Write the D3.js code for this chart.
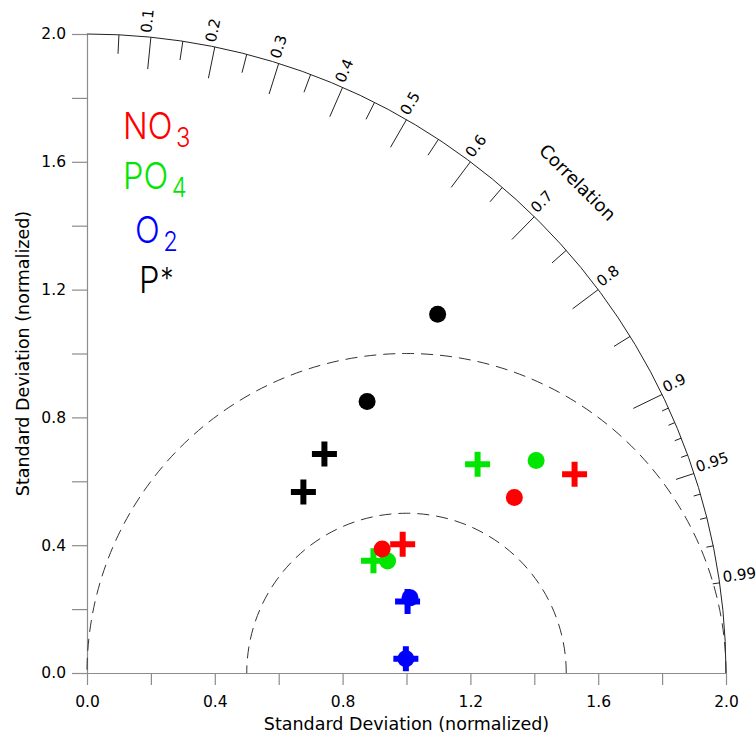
<!DOCTYPE html>
<html>
<head>
<meta charset="utf-8">
<script src="https://cdn.jsdelivr.net/npm/d3@7"></script>
<style>
  html, body { margin: 0; padding: 0; background: #fff; }
  svg { display: block; font-family: "DejaVu Sans", "Liberation Sans", sans-serif; }
</style>
</head>
<body>
<svg id="chart" width="756" height="738"></svg>
<script>
// ---------------- DATA ----------------
const variables = ["NO3", "PO4", "O2", "P*"];
// normalized standard deviation and correlation of the circle markers (two per variable)
const circleStd  = [[1.446, 1.002], [1.555, 1.004], [1.038, 0.999], [1.570, 1.221]];
const circleCorr = [[0.925, 0.922], [0.904, 0.937], [0.974, 0.999], [0.699, 0.718]];
// normalized standard deviation and correlation of the cross markers (two per variable)
const crossStd   = [[1.648, 1.067], [1.386, 0.963], [1.028, 0.999], [1.011, 0.883]];
const crossCorr  = [[0.926, 0.926], [0.882, 0.931], [0.976, 0.999], [0.735, 0.767]];
// axis ticks
const stdTicks  = [0, 0.2, 0.4, 0.6, 0.8, 1.0, 1.2, 1.4, 1.6, 1.8, 2.0];
const stdLabels = ["0.0", "", "0.4", "", "0.8", "", "1.2", "", "1.6", "", "2.0"];
const corrMajor  = [0.1, 0.2, 0.3, 0.4, 0.5, 0.6, 0.7, 0.8, 0.9, 0.95, 0.99];
const corrLabels = ["0.1", "0.2", "0.3", "0.4", "0.5", "0.6", "0.7", "0.8", "0.9", "0.95", "0.99"];
const corrMinor  = [0.05, 0.15, 0.25, 0.35, 0.45, 0.55, 0.65, 0.75, 0.85,
                    0.91, 0.92, 0.93, 0.94, 0.96, 0.97, 0.98];
const rmsCircles = [0.5, 1.0];   // centred-RMS arcs around the reference point
const refStd = 1.0;
const maxStd = 2.0;

// ---------------- STYLE ----------------
const colors = ["#ff0000", "#00e600", "#0000ff", "#000000"];
const drawOrder = [1, 0, 2, 3];

// ---------------- SCALES ----------------
const svg = d3.select("#chart");
const xS = d3.scaleLinear().domain([0, maxStd]).range([87, 726]);
const yS = d3.scaleLinear().domain([0, maxStd]).range([673, 34]);
const rS = d3.scaleLinear().domain([0, maxStd]).range([0, 639]);
const ox = xS(0), oy = yS(0);

function polar(std, corr) {
  const th = Math.acos(corr);
  return [xS(std * Math.cos(th)), yS(std * Math.sin(th))];
}

// ---------------- AXES ----------------
const xAxis = d3.axisBottom(xS).tickValues(stdTicks)
  .tickFormat((d, i) => stdLabels[i]).tickSize(12).tickSizeOuter(0).tickPadding(11);
const yAxis = d3.axisLeft(yS).tickValues(stdTicks)
  .tickFormat((d, i) => stdLabels[i]).tickSize(15).tickSizeOuter(0).tickPadding(6);

const gx = svg.append("g").attr("transform", `translate(0,${oy})`).call(xAxis);
const gy = svg.append("g").attr("transform", `translate(${ox},0)`).call(yAxis);
[gx, gy].forEach(g => {
  g.select(".domain").attr("stroke", "#8c8c8c").attr("stroke-width", 1.2);
  g.selectAll(".tick line").attr("stroke", "#8c8c8c").attr("stroke-width", 1.2);
  g.selectAll(".tick text").attr("font-size", 15.5).attr("fill", "#000")
    .attr("font-family", "DejaVu Sans, sans-serif");
});

svg.append("text")
  .attr("x", (xS(0) + xS(maxStd)) / 2).attr("y", 730)
  .attr("text-anchor", "middle").attr("font-size", 17.5)
  .text("Standard Deviation (normalized)");
svg.append("text")
  .attr("transform", `translate(29,${(yS(0) + yS(maxStd)) / 2}) rotate(-90)`)
  .attr("text-anchor", "middle").attr("font-size", 17.5)
  .text("Standard Deviation (normalized)");

// ---------------- OUTER ARC ----------------
const outer = d3.path();
outer.arc(ox, oy, rS(maxStd), 0, -Math.PI / 2, true);
svg.append("path").attr("d", outer.toString())
  .attr("fill", "none").attr("stroke", "#222").attr("stroke-width", 1);

// correlation ticks
function tickLen(c, major) {
  if (major) return c <= 0.9 ? 32 : (c === 0.95 ? 19 : 7);
  return c <= 0.85 ? 19 : 7;
}
const ticksData = corrMajor.map(c => ({ c, major: true }))
  .concat(corrMinor.map(c => ({ c, major: false })));
svg.append("g").selectAll("line").data(ticksData).join("line")
  .each(function (d) {
    const th = Math.acos(d.c);
    const R = rS(maxStd), L = tickLen(d.c, d.major);
    d3.select(this)
      .attr("x1", ox + R * Math.cos(th)).attr("y1", oy - R * Math.sin(th))
      .attr("x2", ox + (R - L) * Math.cos(th)).attr("y2", oy - (R - L) * Math.sin(th));
  })
  .attr("stroke", "#222").attr("stroke-width", 1);

svg.append("g").selectAll("text").data(corrMajor).join("text")
  .attr("transform", c => {
    const th = Math.acos(c), R = rS(maxStd) + 4;
    return `translate(${ox + R * Math.cos(th)},${oy - R * Math.sin(th)}) rotate(${-th * 180 / Math.PI})`;
  })
  .attr("font-size", 15).attr("text-anchor", "start")
  .text((c, i) => corrLabels[i]);

{
  const th = Math.PI / 4, R = rS(maxStd) + 55;
  svg.append("text")
    .attr("transform", `translate(${ox + R * Math.cos(th)},${oy - R * Math.sin(th)}) rotate(45)`)
    .attr("text-anchor", "middle").attr("dominant-baseline", "central")
    .attr("font-size", 18).text("Correlation");
}

// ---------------- RMS ARCS ----------------
rmsCircles.forEach(rr => {
  const p = d3.path();
  p.arc(xS(refStd), oy, rS(rr), 0, -Math.PI, true);
  svg.append("path").attr("d", p.toString())
    .attr("fill", "none").attr("stroke", "#333").attr("stroke-width", 1)
    .attr("stroke-dasharray", "12,7");
});

// ---------------- MARKERS ----------------
const gm = svg.append("g");
drawOrder.forEach(v => {
  circleStd[v].forEach((s, j) => {
    const [px, py] = polar(s, circleCorr[v][j]);
    gm.append("circle").attr("cx", px).attr("cy", py).attr("r", 8.5)
      .attr("fill", colors[v]);
  });
  crossStd[v].forEach((s, j) => {
    const [px, py] = polar(s, crossCorr[v][j]);
    gm.append("path")
      .attr("d", "M-12.5,0H12.5M0,-12.5V12.5")
      .attr("transform", `translate(${px},${py})`)
      .attr("stroke", colors[v]).attr("stroke-width", 6).attr("fill", "none");
  });
});

// ---------------- LEGEND ----------------
const legend = [
  { main: "NO", sub: "3", sup: "", x: 123, y: 139 },
  { main: "PO", sub: "4", sup: "", x: 123, y: 189 },
  { main: "O",  sub: "2", sup: "", x: 135, y: 243 },
  { main: "P",  sub: "",  sup: "*", x: 139, y: 293 }
];
legend.forEach((L, i) => {
  const t = svg.append("text")
    .attr("transform", `translate(${L.x},${L.y}) scale(0.88,1)`)
    .attr("font-size", 37).attr("font-family", "Inter, 'Liberation Sans', sans-serif")
    .attr("font-weight", 300)
    .attr("fill", colors[i]);
  t.append("tspan").text(L.main);
  if (L.sub) t.append("tspan").attr("dx", 4).attr("dy", 8).attr("font-size", 27).text(L.sub);
  if (L.sup) t.append("tspan").attr("dx", 1).attr("dy", -4).attr("font-size", 30).text(L.sup);
});
</script>
</body>
</html>
